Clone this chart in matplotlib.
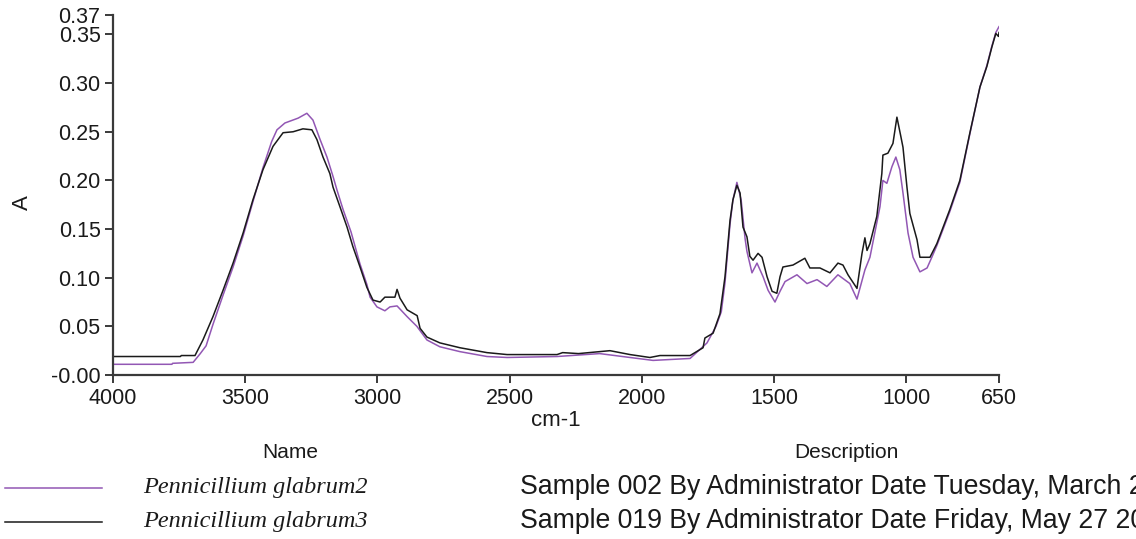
import matplotlib
matplotlib.use("Agg")
import matplotlib.pyplot as plt
from matplotlib.ticker import FixedLocator, FixedFormatter

plt.rcParams['font.family'] = ['Liberation Sans', 'DejaVu Sans']

# Spectrum: Pennicillium glabrum2 (purple)
wn_g2 = [4000, 3777, 3775, 3697, 3670, 3648, 3622, 3584, 3546, 3508, 3471, 3433,
         3400, 3380, 3350, 3300, 3267, 3244, 3217, 3191, 3168, 3153, 3130, 3100,
         3066, 3040, 3028, 3002, 2972, 2953, 2926, 2888, 2851, 2813, 2764, 2688,
         2586, 2510, 2321, 2160, 2045, 1958, 1818, 1754, 1720, 1700, 1686, 1667,
         1656, 1641, 1625, 1610, 1603, 1584, 1565, 1542, 1523, 1497, 1478, 1459,
         1414, 1376, 1338, 1301, 1259, 1214, 1187, 1157, 1138, 1100, 1089, 1074,
         1055, 1040, 1025, 1013, 994, 975, 949, 922, 904, 885, 836, 798, 760, 722,
         696, 677, 662, 650]
abs_g2 = [0.011, 0.011, 0.012, 0.013, 0.022, 0.030, 0.052, 0.082, 0.111, 0.143, 0.178, 0.213,
          0.240, 0.252, 0.259, 0.264, 0.269, 0.262, 0.242, 0.224, 0.204, 0.190, 0.170, 0.147,
          0.114, 0.093, 0.080, 0.070, 0.066, 0.070, 0.071, 0.060, 0.050, 0.036, 0.029, 0.024,
          0.019, 0.018, 0.019, 0.022, 0.018, 0.015, 0.017, 0.033, 0.050, 0.065, 0.095, 0.155,
          0.180, 0.198, 0.180, 0.140, 0.127, 0.105, 0.115, 0.101, 0.087, 0.075, 0.086, 0.096,
          0.103, 0.094, 0.098, 0.091, 0.103, 0.094, 0.078, 0.108, 0.121, 0.173, 0.200, 0.197,
          0.214, 0.224, 0.211, 0.187, 0.146, 0.121, 0.106, 0.110, 0.121, 0.133, 0.168, 0.198,
          0.248, 0.296, 0.318, 0.338, 0.352, 0.358]

# Spectrum: Pennicillium glabrum3 (black)
wn_g3 = [4000, 3745, 3742, 3690, 3660, 3622, 3584, 3546, 3508, 3471, 3433, 3395,
         3357, 3319, 3282, 3248, 3229, 3206, 3180, 3168, 3142, 3115, 3093, 3066,
         3040, 3017, 2990, 2972, 2934, 2926, 2915, 2888, 2850, 2839, 2813, 2764,
         2688, 2586, 2510, 2321, 2300, 2240, 2121, 2045, 1970, 1932, 1818, 1769,
         1762, 1731, 1705, 1686, 1667, 1656, 1641, 1629, 1618, 1603, 1592, 1580,
         1561, 1546, 1527, 1508, 1490, 1478, 1467, 1429, 1384, 1365, 1327, 1289,
         1259, 1240, 1221, 1187, 1168, 1157, 1149, 1138, 1112, 1093, 1089, 1070,
         1051, 1036, 1021, 1013, 998, 987, 960, 949, 911, 885, 836, 798, 760, 722,
         696, 677, 662, 652, 650]
abs_g3 = [0.019, 0.019, 0.020, 0.020, 0.036, 0.060, 0.087, 0.115, 0.146, 0.180, 0.211, 0.235,
          0.249, 0.250, 0.253, 0.252, 0.242, 0.224, 0.207, 0.193, 0.173, 0.152, 0.132, 0.111,
          0.090, 0.077, 0.075, 0.080, 0.080, 0.088, 0.079, 0.067, 0.061, 0.048, 0.039, 0.033,
          0.028, 0.023, 0.021, 0.021, 0.023, 0.022, 0.025, 0.021, 0.018, 0.020, 0.020, 0.028,
          0.038, 0.043, 0.063, 0.101, 0.159, 0.180, 0.195, 0.187, 0.152, 0.142, 0.122, 0.118,
          0.125, 0.121, 0.101, 0.086, 0.084, 0.101, 0.111, 0.113, 0.120, 0.110, 0.110, 0.105,
          0.115, 0.113, 0.103, 0.089, 0.125, 0.141, 0.128, 0.135, 0.163, 0.207, 0.226, 0.228,
          0.238, 0.265, 0.245, 0.234, 0.193, 0.166, 0.139, 0.121, 0.121, 0.135, 0.170, 0.200,
          0.249, 0.296, 0.317, 0.337, 0.351, 0.348, 0.352]

x_ticks = [4000, 3500, 3000, 2500, 2000, 1500, 1000, 650]
x_tick_labels = ['4000', '3500', '3000', '2500', '2000', '1500', '1000', '650']
y_ticks = [0.00, 0.05, 0.10, 0.15, 0.20, 0.25, 0.30, 0.35, 0.37]
y_tick_labels = ['-0.00', '0.05', '0.10', '0.15', '0.20', '0.25', '0.30', '0.35', '0.37']

names = ['Pennicillium glabrum2', 'Pennicillium glabrum3']
descriptions = ['Sample 002 By Administrator Date Tuesday, March 2',
                'Sample 019 By Administrator Date Friday, May 27 20']
colors = ['#9257b4', '#1a1a1a']

W, H = 1136, 539
fig = plt.figure(figsize=(W / 100, H / 100), dpi=100)


def fx(px):
    return px / W


def fy(py):
    return 1 - py / H


ax = fig.add_axes([fx(113), fy(375), fx(999) - fx(113), fy(15) - fy(375)])
ax.plot(wn_g2, abs_g2, color=colors[0], lw=1.1)
ax.plot(wn_g3, abs_g3, color=colors[1], lw=1.1)
ax.set_xlim(4000, 650)
ax.set_ylim(0, 0.37)

for side in ('top', 'right'):
    ax.spines[side].set_visible(False)
for side in ('left', 'bottom'):
    ax.spines[side].set_color('#3a3a3a')
    ax.spines[side].set_linewidth(1.6)

ax.xaxis.set_major_locator(FixedLocator(x_ticks))
ax.xaxis.set_major_formatter(FixedFormatter(x_tick_labels))
ax.yaxis.set_major_locator(FixedLocator(y_ticks))
ax.yaxis.set_major_formatter(FixedFormatter(y_tick_labels))
ax.tick_params(axis='both', direction='out', length=6, width=1.4, color='#3a3a3a',
               labelsize=15.5, labelcolor='#1a1a1a', pad=3)

# axis titles
fig.text(fx(556), fy(420), 'cm-1', ha='center', va='center', fontsize=16, color='#1a1a1a')
fig.text(fx(22), fy(203), 'A', ha='center', va='center', rotation=90, fontsize=16,
         color='#1a1a1a')

# name / description table below the plot
fig.text(fx(290), fy(452), 'Name', ha='center', va='center', fontsize=15, color='#1a1a1a')
fig.text(fx(846), fy(452), 'Description', ha='center', va='center', fontsize=15,
         color='#1a1a1a')
row_y = [487, 521]
for name, desc, c, ry in zip(names, descriptions, colors, row_y):
    fig.add_artist(plt.Line2D([fx(5), fx(102)], [fy(ry + 1), fy(ry + 1)],
                              color=c, lw=1.1, transform=fig.transFigure))
    fig.text(fx(143), fy(ry), name, ha='left', va='center', fontsize=17.5,
             family='Liberation Serif', style='italic', color='#1a1a1a')
    fig.text(fx(520), fy(ry), desc, ha='left', va='center', fontsize=19.2, color='#1a1a1a')

fig.savefig('out.png', dpi=100)
